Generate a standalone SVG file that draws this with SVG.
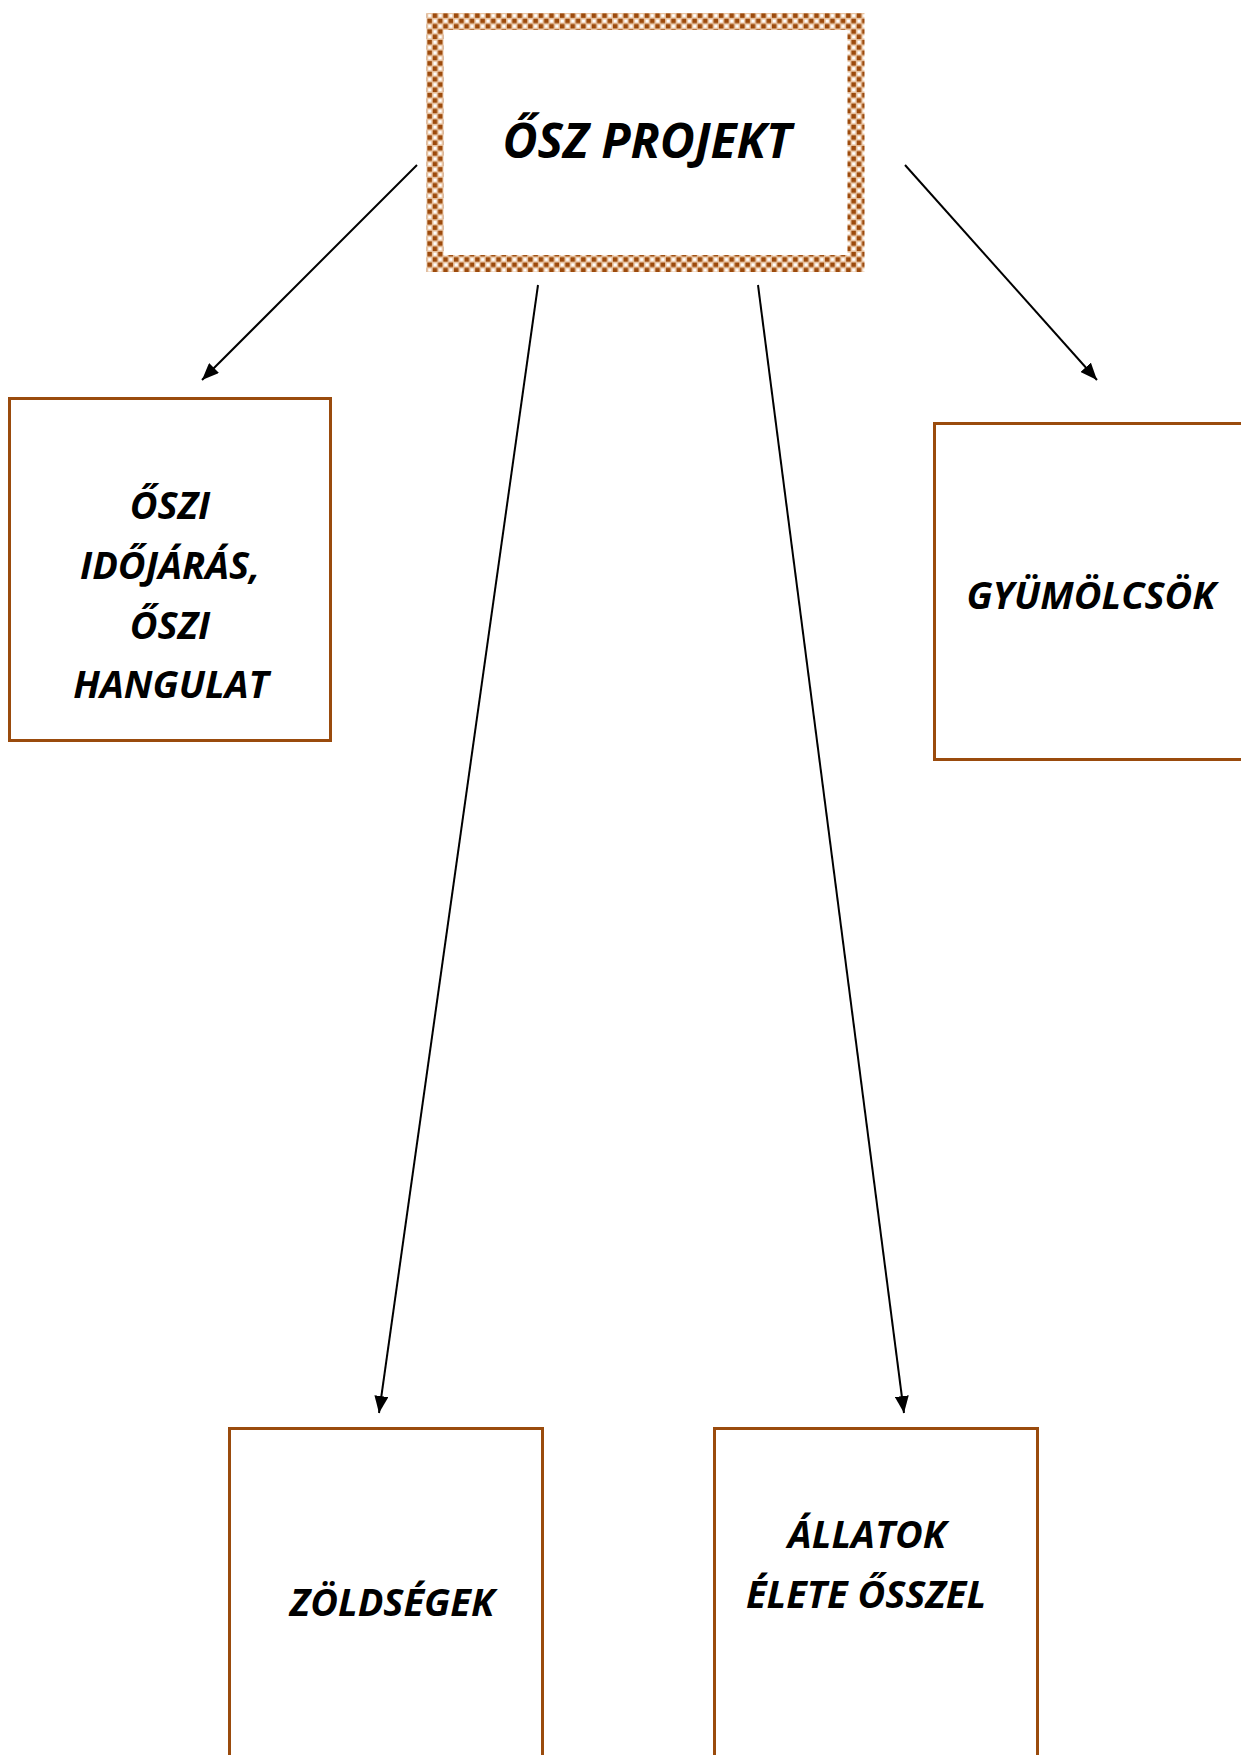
<svg xmlns="http://www.w3.org/2000/svg" width="1241" height="1755" viewBox="0 0 1241 1755">
  <style>
    .box { fill: #ffffff; stroke: #9a4b0d; stroke-width: 3; }
    .lbl { font-family: "Open Sans", Lato, "Liberation Sans", sans-serif; font-weight: bold; font-style: italic; fill: #000000; text-anchor: middle; }
    .conn { stroke: #000000; stroke-width: 2; fill: none; marker-end: url(#arrow); }
  </style>
  <defs>
    <pattern id="checker" patternUnits="userSpaceOnUse" x="427" y="13" width="10.6" height="10.6">
      <rect x="0" y="0" width="10.6" height="10.6" fill="#e9c4a2"/>
      <rect x="1.2" y="1.2" width="3" height="3" fill="#ffffff"/>
      <rect x="6.5" y="6.5" width="3" height="3" fill="#ffffff"/>
      <rect x="5.7" y="0.4" width="4.5" height="4.5" fill="#9c4a0c"/>
      <rect x="0.4" y="5.7" width="4.5" height="4.5" fill="#9c4a0c"/>
    </pattern>
    <marker id="arrow" markerUnits="userSpaceOnUse" markerWidth="18" markerHeight="14" refX="17" refY="7" orient="auto">
      <path d="M0,0 L17,7 L0,14 z" fill="#000000"/>
    </marker>
  </defs>
  <rect x="0" y="0" width="1241" height="1755" fill="#ffffff"/>

  <g id="connectors">
    <line class="conn" x1="417" y1="165" x2="202" y2="380"/>
    <line class="conn" x1="905" y1="165" x2="1097" y2="380"/>
    <line class="conn" x1="538" y1="285" x2="379" y2="1413"/>
    <line class="conn" x1="758" y1="285" x2="904" y2="1413"/>
  </g>

  <g id="node-osz-projekt">
    <rect x="435" y="21.5" width="421" height="242" fill="#ffffff" stroke="url(#checker)" stroke-width="17"/>
    <text class="lbl" x="647" y="158" font-size="48">ŐSZ PROJEKT</text>
  </g>

  <g id="node-oszi-idojaras">
    <rect class="box" x="9.5" y="398.5" width="321" height="342"/>
    <text class="lbl" x="170" y="519" font-size="38">ŐSZI</text>
    <text class="lbl" x="170" y="579" font-size="38">IDŐJÁRÁS,</text>
    <text class="lbl" x="170" y="639" font-size="38">ŐSZI</text>
    <text class="lbl" x="171" y="698" font-size="38">HANGULAT</text>
  </g>

  <g id="node-gyumolcsok">
    <rect class="box" x="934.5" y="423.5" width="330" height="336"/>
    <text class="lbl" x="1091" y="609" font-size="38">GYÜMÖLCSÖK</text>
  </g>

  <g id="node-zoldsegek">
    <rect class="box" x="229.5" y="1428.5" width="313" height="360"/>
    <text class="lbl" x="392" y="1616" font-size="38">ZÖLDSÉGEK</text>
  </g>

  <g id="node-allatok">
    <rect class="box" x="714.5" y="1428.5" width="323" height="360"/>
    <text class="lbl" x="867" y="1548" font-size="38">ÁLLATOK</text>
    <text class="lbl" x="866" y="1608" font-size="38">ÉLETE ŐSSZEL</text>
  </g>
</svg>
